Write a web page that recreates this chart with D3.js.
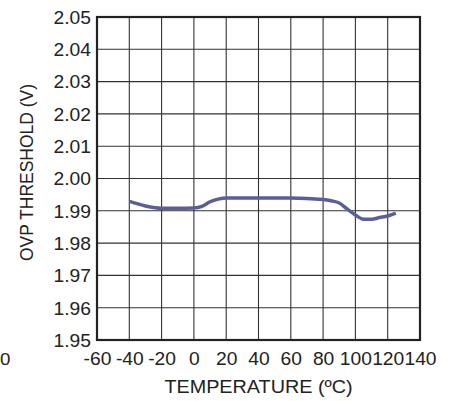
<!DOCTYPE html>
<html>
<head>
<meta charset="utf-8">
<script src="https://cdn.jsdelivr.net/npm/d3@7"></script>
<style>
  body { margin: 0; background: #fff; }
  svg { display: block; font-family: "Liberation Sans", Arial, Helvetica, sans-serif; }
</style>
</head>
<body>
<div id="chart"></div>
<script>
// OVP threshold vs temperature
var temps = [-40, -30, -20, -10, 0, 5, 10, 15, 20, 40, 60, 80, 85, 90, 95, 100, 105, 110, 115, 120, 125];
var ovp = [1.9929, 1.9915, 1.9908, 1.9908, 1.9909, 1.9914, 1.9928, 1.9936, 1.9940, 1.9940, 1.9940,
           1.9935, 1.9931, 1.9924, 1.9905, 1.9887, 1.9874, 1.9874, 1.9879, 1.9884, 1.9893];

var xTicks = [-60, -40, -20, 0, 20, 40, 60, 80, 100, 120, 140];
var yTicks = [1.95, 1.96, 1.97, 1.98, 1.99, 2.00, 2.01, 2.02, 2.03, 2.04, 2.05];

var W = 454, H = 401;
var margin = { top: 17, right: 34, bottom: 61, left: 97 };
var width = W - margin.left - margin.right;
var height = H - margin.top - margin.bottom;
var sx = 1.1; // the reference text is a bit wide

var svg = d3.select('#chart')
  .append('svg')
  .attr('width', W)
  .attr('height', H);

var g = svg.append('g')
  .attr('transform', 'translate(' + margin.left + ',' + margin.top + ')');

var x = d3.scaleLinear().domain([-60, 140]).range([0, width]);
var y = d3.scaleLinear().domain([1.95, 2.05]).range([height, 0]);

// grid
var grid = g.append('g');

grid.selectAll('line.v')
  .data(xTicks.slice(1, -1))
  .enter()
  .append('line')
  .attr('class', 'v')
  .attr('x1', function(d) { return x(d); })
  .attr('x2', function(d) { return x(d); })
  .attr('y1', 0)
  .attr('y2', height)
  .attr('stroke', '#333')
  .attr('stroke-width', 1.1);

grid.selectAll('line.h')
  .data(yTicks.slice(1, -1))
  .enter()
  .append('line')
  .attr('class', 'h')
  .attr('x1', 0)
  .attr('x2', width)
  .attr('y1', function(d) { return y(d); })
  .attr('y2', function(d) { return y(d); })
  .attr('stroke', '#333')
  .attr('stroke-width', 1.1);

// axes (labels only, frame drawn below)
var yAxis = g.append('g')
  .call(d3.axisLeft(y).tickValues(yTicks).tickSize(0).tickPadding(0)
    .tickFormat(function(d) { return d.toFixed(2); }));
yAxis.select('.domain').remove();
yAxis.selectAll('text')
  .attr('x', -5.5)
  .attr('dy', '0.36em')
  .attr('transform', 'scale(' + sx + ',1)')
  .attr('font-size', 17.5)
  .attr('fill', '#222');
yAxis.attr('font-family', null);

var xAxis = g.append('g')
  .attr('transform', 'translate(0,' + height + ')')
  .call(d3.axisBottom(x).tickValues(xTicks).tickSize(0).tickPadding(0)
    .tickFormat(function(d) { return String(d); }));
xAxis.select('.domain').remove();
xAxis.selectAll('text')
  .attr('y', 25)
  .attr('dy', 0)
  .attr('transform', 'scale(' + sx + ',1)')
  .attr('font-size', 17.5)
  .attr('fill', '#222');
xAxis.attr('font-family', null);

// frame
g.append('rect')
  .attr('x', 0)
  .attr('y', 0)
  .attr('width', width)
  .attr('height', height)
  .attr('fill', 'none')
  .attr('stroke', '#222')
  .attr('stroke-width', 2.2);

// curve
var line = d3.line()
  .x(function(d, i) { return x(temps[i]); })
  .y(function(d) { return y(d); })
  .curve(d3.curveMonotoneX);

g.append('path')
  .datum(ovp)
  .attr('d', line)
  .attr('fill', 'none')
  .attr('stroke', '#5b5f99')
  .attr('stroke-width', 3.5);

// axis titles
svg.append('text')
  .attr('transform', 'translate(' + (margin.left + width / 2) + ',393) scale(' + sx + ',1)')
  .attr('text-anchor', 'middle')
  .attr('font-size', 18)
  .attr('fill', '#222')
  .text('TEMPERATURE (ºC)');

svg.append('text')
  .attr('transform', 'translate(33,172.5) rotate(-90) scale(1,1.07)')
  .attr('text-anchor', 'middle')
  .attr('font-size', 17.5)
  .attr('fill', '#222')
  .text('OVP THRESHOLD (V)');

// label left over from the neighbouring chart
svg.append('text')
  .attr('transform', 'translate(0,365) scale(' + sx + ',1)')
  .attr('font-size', 17)
  .attr('fill', '#222')
  .text('0');
</script>
</body>
</html>
